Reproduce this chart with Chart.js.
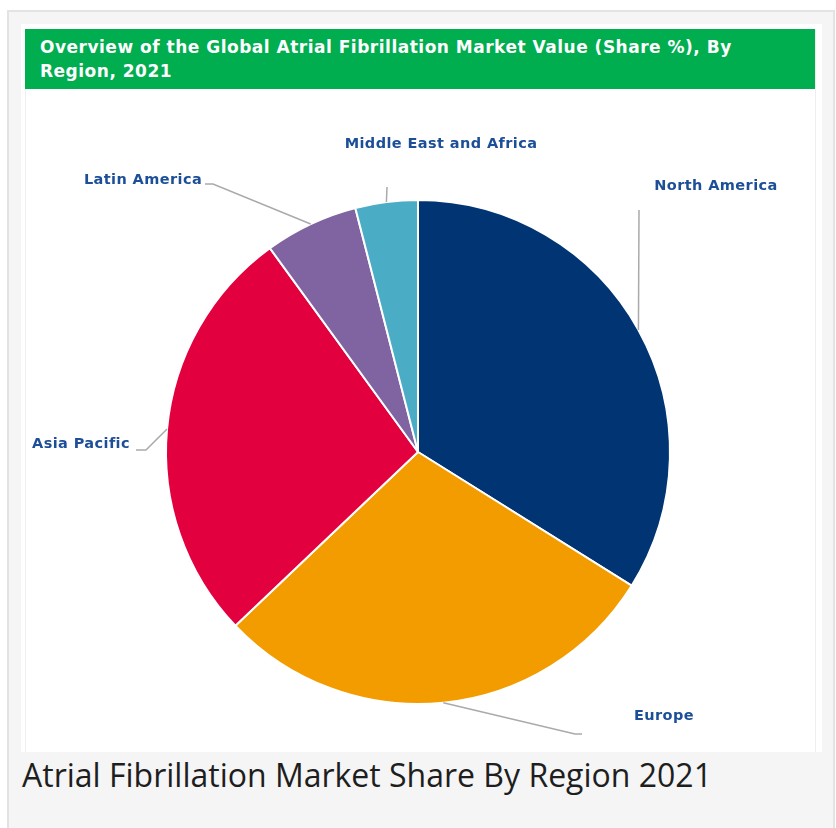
<!DOCTYPE html>
<html>
<head>
<meta charset="utf-8">
<script src="https://cdn.jsdelivr.net/npm/chart.js@4.4.1/dist/chart.umd.min.js"></script>
<style>
  body { margin: 0; background: #fff; width: 836px; height: 828px; overflow: hidden; position: relative; }
  .frame { position: absolute; left: 7px; top: 10px; width: 824px; height: 830px; background: #f5f5f5; border: 2px solid #e3e3e3; }
  .white { position: absolute; left: 21px; top: 24px; width: 801px; height: 728px; background: #fff; }
  .img { position: absolute; left: 25px; top: 29px; width: 789px; height: 723px; border-left: 1px solid #eee; border-right: 1px solid #eee; }
  .title { position: absolute; left: 25px; top: 29px; width: 790px; height: 60px; background: #00ad4f; color: #fff;
    font: bold 17px "DejaVu Sans", sans-serif; letter-spacing: 0.5px; line-height: 24px; padding: 6px 0 0 15px; box-sizing: border-box; }
  .caption { position: absolute; left: 22px; top: 753px; font: 32px "Open Sans", sans-serif; color: #1e1e1e; }
  canvas { position: absolute; left: 0; top: 0; }
</style>
</head>
<body>
<div class="frame"></div>
<div class="white"></div>
<div class="img"></div>
<div class="title">Overview of the Global Atrial Fibrillation Market Value (Share %), By<br>Region, 2021</div>
<div class="caption">Atrial Fibrillation Market Share By Region 2021</div>
<canvas id="chart" width="836" height="828"></canvas>
<script>
// share in %
const regions = ["North America", "Europe", "Asia Pacific", "Latin America", "Middle East and Africa"];
const shares = [33.9, 29.0, 27.1, 6.0, 4.0];
const colors = ["#003473", "#f39c00", "#e2003f", "#8064a2", "#4bacc6"];

// label placement: text centre, elbow of leader line, end of leader line
const labelPos = [
  { tx: 716, ty: 186, elbow: [639, 210], end: null },
  { tx: 664, ty: 716, elbow: [575, 734], end: [582, 734] },
  { tx: 81, ty: 444, elbow: [146, 450], end: [136, 450] },
  { tx: 143, ty: 180, elbow: [213, 184], end: [205, 184] },
  { tx: 441, ty: 144, elbow: [387, 187], end: null },
];

const leaderLabels = {
  id: "leaderLabels",
  afterDatasetsDraw(chart) {
    const ctx = chart.ctx;
    const arcs = chart.getDatasetMeta(0).data;
    ctx.save();
    arcs.forEach((arc, i) => {
      const p = labelPos[i];
      const mid = (arc.startAngle + arc.endAngle) / 2;
      const ax = arc.x + Math.cos(mid) * arc.outerRadius;
      const ay = arc.y + Math.sin(mid) * arc.outerRadius;
      ctx.strokeStyle = "#aaaaaa";
      ctx.lineWidth = 1.5;
      ctx.beginPath();
      ctx.moveTo(ax, ay);
      ctx.lineTo(p.elbow[0], p.elbow[1]);
      if (p.end) ctx.lineTo(p.end[0], p.end[1]);
      ctx.stroke();
      ctx.fillStyle = "#1d4f98";
      ctx.font = "bold 14.5px 'DejaVu Sans', sans-serif";
      ctx.letterSpacing = "0.4px";
      ctx.textAlign = "center";
      ctx.textBaseline = "middle";
      ctx.fillText(chart.data.labels[i], p.tx, p.ty);
    });
    ctx.restore();
  }
};

new Chart(document.getElementById("chart"), {
  type: "pie",
  data: {
    labels: regions,
    datasets: [{
      data: shares,
      backgroundColor: colors,
      borderColor: "#ffffff",
      borderWidth: 2,
    }],
  },
  options: {
    responsive: false,
    animation: false,
    radius: 252,
    layout: { padding: { top: 76, left: 0, right: 0, bottom: 0 } },
    plugins: { legend: { display: false }, tooltip: { enabled: false } },
  },
  plugins: [leaderLabels],
});
</script>
</body>
</html>
